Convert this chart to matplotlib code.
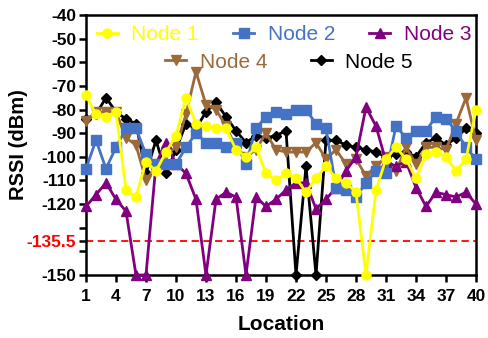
import matplotlib
matplotlib.use("Agg")
import matplotlib.pyplot as plt

plt.rcParams['font.family'] = ['Liberation Sans', 'DejaVu Sans']

locations = list(range(1, 41))

node1 = [-74, -82, -83, -81, -114, -117, -102, -106, -98, -91,
         -75, -86, -87, -88, -88, -97, -100, -96, -107, -110,
         -107, -109, -115, -109, -104, -109, -111, -115, -150, -114,
         -101, -96, -101, -109, -99, -98, -100, -106, -101, -80]
node2 = [-105, -93, -105, -96, -88, -88, -99, -103, -103, -103,
         -96, -90, -94, -94, -96, -94, -103, -88, -83, -81,
         -82, -80, -80, -86, -88, -113, -114, -117, -111, -106,
         -107, -87, -92, -89, -89, -83, -84, -89, -96, -101]
node3 = [-121, -116, -111, -118, -123, -150, -150, -103, -94, -103,
         -107, -118, -150, -118, -115, -117, -150, -117, -121, -118,
         -114, -111, -111, -122, -118, -113, -106, -100, -79, -87,
         -102, -104, -102, -113, -121, -115, -116, -117, -115, -120]
node4 = [-85, -81, -81, -81, -92, -95, -110, -104, -99, -96,
         -82, -64, -78, -80, -87, -96, -100, -97, -90, -97,
         -98, -98, -98, -94, -101, -97, -103, -101, -108, -104,
         -100, -106, -96, -103, -96, -96, -97, -86, -75, -93]
node5 = [-84, -82, -75, -81, -84, -86, -107, -93, -107, -97,
         -86, -88, -81, -77, -83, -89, -94, -91, -92, -91,
         -89, -150, -104, -150, -93, -93, -95, -96, -97, -98,
         -100, -99, -98, -100, -94, -92, -95, -92, -88, -90]

threshold = -135.5
x_ticks = list(range(1, 41, 3))
y_ticks = [-40, -50, -60, -70, -80, -90, -100, -110, -120, -130, -135.5, -140, -150]
y_labels = ['-40', '-50', '-60', '-70', '-80', '-90', '-100', '-110', '-120',
            '', '-135.5', '', '-150']

series = [
    ("Node 1", node1, "#FFFF00", "o"),
    ("Node 2", node2, "#4472C4", "s"),
    ("Node 3", node3, "#800080", "^"),
    ("Node 4", node4, "#9C6A3A", "v"),
    ("Node 5", node5, "#000000", "D"),
]
colors = {s[0]: s[2] for s in series}

fig = plt.figure(figsize=(4.88, 3.38), dpi=100)
ax = fig.add_axes([0.1762, 0.1864, 0.7992, 0.7692])

handles = {}
for z, (name, vals, color, marker) in reversed(list(enumerate(series))):
    ms = 6.5 if marker != "D" else 5
    line, = ax.plot(locations, vals, color=color, marker=marker, markersize=ms,
                    linewidth=2.0, clip_on=False, zorder=10 - z, label=name)
    handles[name] = line

ax.axhline(threshold, color="red", linestyle=(0, (4, 2.5)), linewidth=1.3, zorder=1)

ax.set_xlim(1, 40)
ax.set_ylim(-150, -40)
ax.set_xticks(x_ticks)
ax.set_yticks(y_ticks)
ax.set_yticklabels(y_labels)
for lbl in ax.get_xticklabels() + ax.get_yticklabels():
    lbl.set_fontweight("bold")
    lbl.set_fontsize(12.5)
for lbl, v in zip(ax.get_yticklabels(), y_ticks):
    if v == threshold:
        lbl.set_color("red")

ax.tick_params(axis="y", direction="out", length=5, width=1.8, pad=2)
ax.tick_params(axis="x", direction="out", length=5, width=1.8, pad=5)
for sp in ax.spines.values():
    sp.set_linewidth(1.8)

ax.set_xlabel("Location", fontsize=15, fontweight="bold", labelpad=8)
ax.set_ylabel("RSSI (dBm)", fontsize=14.5, fontweight="bold")
ax.yaxis.set_label_coords(-0.148, 0.5)

legend_kw = dict(frameon=False, loc="upper left", fontsize=15,
                 handlelength=1.0, handletextpad=0.65, borderaxespad=0.0,
                 borderpad=0.0)

names1 = ["Node 1", "Node 2", "Node 3"]
leg1 = ax.legend([handles[n] for n in names1], names1, ncol=3,
                 bbox_to_anchor=(0.028, 0.962), columnspacing=1.65, **legend_kw)
for t, n in zip(leg1.get_texts(), names1):
    t.set_color(colors[n])
ax.add_artist(leg1)

names2 = ["Node 4", "Node 5"]
leg2 = ax.legend([handles[n] for n in names2], names2, ncol=2,
                 bbox_to_anchor=(0.203, 0.855), columnspacing=2.1, **legend_kw)
for t, n in zip(leg2.get_texts(), names2):
    t.set_color(colors[n])

fig.savefig("out.png", dpi=100)
